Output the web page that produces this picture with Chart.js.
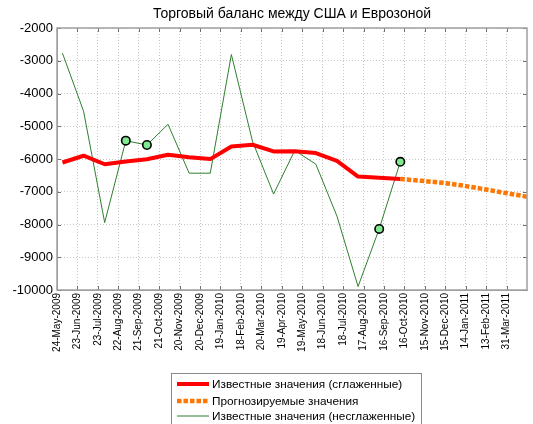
<!DOCTYPE html>
<html><head><meta charset="utf-8">
<script src="https://cdn.jsdelivr.net/npm/chart.js@4.4.0/dist/chart.umd.min.js"></script>
<style>html,body{margin:0;padding:0;background:#fff;}#wrap{width:533px;height:424px;position:relative;}</style>
</head><body><div id="wrap"><canvas id="c" width="533" height="424"></canvas></div>
<script>
const titleText = 'Торговый баланс между США и Еврозоной';
const tickLabels = ['24-May-2009','23-Jun-2009','23-Jul-2009','22-Aug-2009','21-Sep-2009','21-Oct-2009',
  '20-Nov-2009','20-Dec-2009','19-Jan-2010','18-Feb-2010','20-Mar-2010','19-Apr-2010','19-May-2010',
  '18-Jun-2010','18-Jul-2010','17-Aug-2010','16-Sep-2010','16-Oct-2010','15-Nov-2010','15-Dec-2010',
  '14-Jan-2011','13-Feb-2011','31-Mar-2011'];
const tickStepDays = 30;
const axisMaxDays = 690;
// days since 24-May-2009
const dayOffsets = [8,39,70,101,132,163,194,225,256,287,318,349,380,411,442,473,504];
const smoothed = [-6107,-5900,-6160,-6075,-6010,-5871,-5945,-6003,-5616,-5564,-5770,-5765,-5820,-6060,-6537,-6575,-6610];
const unsmoothed = [-2768,-4540,-7940,-5440,-5573,-4940,-6433,-6433,-2810,-5460,-7070,-5740,-6157,-7745,-9895,-8135,-6086];
const markedIdx = [3,4,15,16];
const forecastDays = [504,535,566,597,628,659,690];
const forecast = [-6610,-6665,-6725,-6815,-6925,-7040,-7150];
const seriesNames = ['Известные значения (сглаженные)','Прогнозируемые значения','Известные значения (несглаженные)'];

const FONT = "'Liberation Sans', Arial, Helvetica, sans-serif";
const toXY = (xs, ys) => xs.map((x, i) => ({x: x, y: ys[i]}));

const framePlugin = {
  id: 'frame',
  afterDraw(chart) {
    const {ctx, chartArea: a, scales} = chart;
    ctx.save();
    // inward ticks
    ctx.strokeStyle = '#707070';
    ctx.lineWidth = 1;
    ctx.beginPath();
    scales.x.ticks.forEach(t => {
      const px = Math.round(scales.x.getPixelForValue(t.value)) + 0.5;
      ctx.moveTo(px, a.top); ctx.lineTo(px, a.top + 4);
      ctx.moveTo(px, a.bottom); ctx.lineTo(px, a.bottom - 4);
    });
    scales.y.ticks.forEach(t => {
      const py = Math.round(scales.y.getPixelForValue(t.value)) + 0.5;
      ctx.moveTo(a.left, py); ctx.lineTo(a.left + 4, py);
      ctx.moveTo(a.right, py); ctx.lineTo(a.right - 4, py);
    });
    ctx.stroke();
    // box
    ctx.strokeStyle = '#a0a0a0';
    ctx.lineWidth = 1.5;
    ctx.strokeRect(a.left, a.top, a.right - a.left, a.bottom - a.top);

    // legend
    const lx = 171.5, ly = 373.5;
    ctx.strokeStyle = '#8a8a8a';
    ctx.lineWidth = 1;
    ctx.strokeRect(lx, ly, 250, 60);
    const rows = [384, 401, 416];
    ctx.font = '11.8px ' + FONT;
    ctx.textBaseline = 'middle';
    ctx.textAlign = 'left';
    chart.data.datasets.forEach((ds, r) => {
      ctx.save();
      ctx.strokeStyle = ds.borderColor;
      ctx.lineWidth = ds.borderWidth;
      ctx.setLineDash(ds.borderDash || []);
      ctx.lineCap = 'butt';
      ctx.beginPath();
      ctx.moveTo(177, rows[r]); ctx.lineTo(209, rows[r]);
      ctx.stroke();
      ctx.restore();
      ctx.fillStyle = '#000';
      ctx.fillText(ds.label, 212, rows[r] + 0.5);
    });
    ctx.restore();
  }
};

new Chart(document.getElementById('c'), {
  type: 'line',
  data: {
    datasets: [
      { label: seriesNames[0], data: toXY(dayOffsets, smoothed), borderColor: '#ff0000', borderWidth: 4,
        pointRadius: 0, borderJoinStyle: 'round', tension: 0 },
      { label: seriesNames[1], data: toXY(forecastDays, forecast), borderColor: '#ff7700', borderWidth: 4.5,
        borderDash: [4.5, 2], pointRadius: 0, tension: 0 },
      { label: seriesNames[2], data: toXY(dayOffsets, unsmoothed), borderColor: '#2f7f2f', borderWidth: 1,
        pointRadius: unsmoothed.map((_, i) => markedIdx.includes(i) ? 4.2 : 0),
        pointHoverRadius: unsmoothed.map((_, i) => markedIdx.includes(i) ? 4.2 : 0),
        pointBackgroundColor: '#80ea90', pointBorderColor: '#000', pointBorderWidth: 1.6, tension: 0 }
    ]
  },
  options: {
    responsive: false,
    animation: false,
    devicePixelRatio: 1,
    layout: { padding: { left: 0, right: 6, top: 0, bottom: 0 } },
    plugins: {
      legend: { display: false },
      tooltip: { enabled: false },
      title: { display: true, text: titleText, fullSize: false, color: '#000',
        font: { family: FONT, size: 14, weight: 'normal' }, padding: { top: 6, bottom: 5.2 } }
    },
    scales: {
      x: {
        type: 'linear', min: 0, max: axisMaxDays,
        afterBuildTicks: s => { s.ticks = tickLabels.map((_, i) => ({ value: i * tickStepDays })); },
        afterFit: s => { s.height = 134; },
        ticks: { autoSkip: false, minRotation: 90, maxRotation: 90, color: '#000', padding: 3,
          font: { family: FONT, size: 10 },
          callback: v => tickLabels[Math.round(v / tickStepDays)] || '' },
        grid: { color: '#c8c8c8', lineWidth: 1, drawTicks: false },
        border: { display: true, color: '#a0a0a0', dash: [1, 2] }
      },
      y: {
        min: -10000, max: -2000,
        afterFit: s => { s.width = 57; },
        ticks: { stepSize: 1000, color: '#000', padding: 4, font: { family: FONT, size: 13 },
          callback: v => String(v) },
        grid: { color: '#c8c8c8', lineWidth: 1, drawTicks: false },
        border: { display: true, color: '#a0a0a0', dash: [1, 2] }
      }
    }
  },
  plugins: [framePlugin]
});
</script></body></html>
